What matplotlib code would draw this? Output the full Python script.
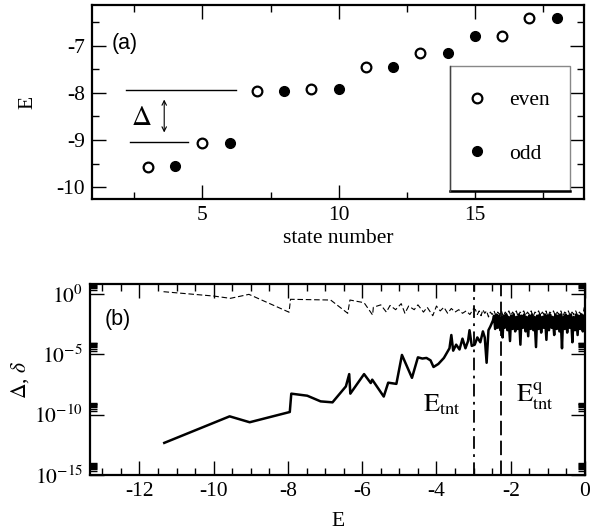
import numpy as np
import matplotlib
matplotlib.use("Agg")
import matplotlib.pyplot as plt
from matplotlib.patches import Rectangle
from matplotlib.lines import Line2D
from matplotlib.ticker import MultipleLocator, FixedLocator, FixedFormatter

plt.rcParams['font.family'] = ['Liberation Serif', 'DejaVu Serif']
plt.rcParams['mathtext.fontset'] = 'stix'
plt.rcParams['axes.unicode_minus'] = False

# ---------------- panel (a) data ----------------
even_state = [3, 5, 7, 9, 11, 13, 16, 17]
even_E = [-9.57, -9.06, -7.95, -7.91, -7.45, -7.14, -6.79, -6.40]
odd_state = [4, 6, 8, 10, 12, 14, 15, 18]
odd_E = [-9.56, -9.06, -7.95, -7.91, -7.45, -7.14, -6.79, -6.40]

# annotation lines in panel (a)
upper_level = [2.18, 6.24, -7.94]
lower_level = [2.35, 4.49, -9.04]

# ---------------- panel (b) data ----------------
gap_E = [-11.33, -9.57, -9.03, -7.95, -7.91, -7.48, -7.12, -6.80, -6.44, -6.35, -6.32,
         -5.95, -5.77, -5.73, -5.42, -5.30, -5.08, -4.93, -4.66, -4.50, -4.38, -4.27,
         -4.16, -4.08, -3.95, -3.80, -3.65, -3.60, -3.55, -3.47, -3.38, -3.30, -3.22,
         -3.15, -3.11, -3.05, -2.97, -2.90, -2.82, -2.75, -2.70, -2.65, -2.60, -2.55,
         -2.48, -2.45, -2.42, -2.38, -2.35, -2.32, -2.28, -2.25, -2.22, -2.19, -2.16,
         -2.12, -2.09, -2.06, -2.02, -1.99, -1.95, -1.92, -1.88, -1.85, -1.81, -1.78,
         -1.74, -1.71, -1.67, -1.64, -1.60, -1.57, -1.53, -1.50, -1.46, -1.43, -1.39,
         -1.36, -1.32, -1.29, -1.25, -1.22, -1.18, -1.15, -1.11, -1.08, -1.04, -1.01,
         -0.97, -0.94, -0.90, -0.87, -0.83, -0.80, -0.76, -0.73, -0.69, -0.66, -0.62,
         -0.59, -0.55, -0.52, -0.48, -0.45, -0.41, -0.38, -0.34, -0.31, -0.27, -0.24,
         -0.20, -0.17, -0.13, -0.10, -0.06, -0.03]
gap_log10 = [-12.34, -10.14, -10.63, -9.78, -8.26, -8.43, -8.90, -8.98, -7.66, -6.64, -8.26,
             -6.64, -7.38, -7.10, -8.50, -7.35, -7.45, -5.05, -6.95, -5.25, -5.35, -5.30,
             -5.50, -6.05, -5.80, -5.30, -4.50, -3.40, -4.70, -4.20, -4.60, -3.70, -4.50,
             -3.90, -3.00, -4.30, -4.20, -3.60, -4.00, -3.10, -3.60, -5.70, -3.00, -2.70,
             -2.20, -1.80, -2.90, -1.70, -2.80, -1.80, -3.00, -1.90, -3.60, -1.80, -2.80,
             -1.70, -3.00, -1.90, -3.90, -1.80, -2.90, -1.70, -3.10, -1.90, -2.90, -1.70,
             -4.20, -1.80, -2.80, -1.70, -3.10, -1.90, -3.50, -1.80, -2.90, -1.70, -3.00,
             -1.90, -4.40, -1.80, -2.90, -1.70, -3.20, -1.90, -2.80, -1.70, -3.80, -1.80,
             -3.00, -1.70, -2.80, -1.90, -3.40, -1.70, -2.90, -1.80, -3.10, -1.70, -4.50,
             -1.90, -2.90, -1.70, -3.20, -1.80, -2.80, -1.70, -4.00, -1.90, -3.00, -1.70,
             -3.40, -1.80, -2.90, -1.70, -3.10, -1.80]

split_E = [-11.35, -10.00, -9.55, -9.05, -7.97, -7.93, -6.85, -6.39, -6.33, -5.95, -5.72,
           -5.70, -5.50, -5.35, -5.25, -5.10, -4.95, -4.85, -4.75, -4.60, -4.50, -4.35,
           -4.25, -4.10, -4.00, -3.90, -3.80, -3.70, -3.60, -3.50, -3.40, -3.30, -3.20,
           -3.10, -3.00, -2.95, -2.90, -2.85, -2.80, -2.75, -2.70, -2.65, -2.60, -2.55,
           -2.50, -2.45, -2.40, -2.35, -2.30, -2.25, -2.20, -2.15, -2.10, -2.05, -2.00,
           -1.95, -1.90, -1.85, -1.80, -1.75, -1.70, -1.65, -1.60, -1.55, -1.50, -1.45,
           -1.40, -1.35, -1.30, -1.25, -1.20, -1.15, -1.10, -1.05, -1.00, -0.95, -0.90,
           -0.85, -0.80, -0.75, -0.70, -0.65, -0.60, -0.55, -0.50, -0.45, -0.40, -0.35,
           -0.30, -0.25, -0.20, -0.15, -0.10, -0.05, -0.02]
split_log10 = [0.19, -0.17, -0.36, -0.03, -1.51, -0.44, -0.50, -1.60, -0.50, -0.72, -1.74,
               -1.10, -0.90, -1.50, -0.95, -1.30, -0.80, -1.60, -1.00, -1.30, -0.90, -1.50,
               -1.10, -1.80, -1.00, -1.40, -1.10, -1.60, -1.20, -1.50, -1.30, -1.60, -1.40,
               -1.70, -1.20, -1.30, -1.70, -1.40, -1.80, -1.30, -1.60, -1.40, -1.90, -1.50,
               -1.70, -1.40, -1.80, -1.50, -1.70, -1.40, -1.90, -1.50, -1.70, -1.40, -1.80,
               -1.50, -1.70, -1.40, -1.90, -1.50, -1.60, -1.40, -1.80, -1.50, -1.70, -1.40,
               -1.90, -1.50, -1.60, -1.40, -1.80, -1.50, -1.70, -1.40, -1.90, -1.50, -1.60,
               -1.40, -1.80, -1.50, -1.70, -1.40, -1.90, -1.50, -1.60, -1.40, -1.80, -1.50,
               -1.70, -1.40, -1.80, -1.50, -1.70, -1.60, -1.10]

E_tnt = -3.0
E_tnt_q = -2.25

y_tick_exps = [0, -5, -10, -15]

FS = 15.5

fig = plt.figure(figsize=(5.98, 5.31), dpi=100)
axA = fig.add_axes([0.1538, 0.6247, 0.9766 - 0.1538, 0.9906 - 0.6247])
axB = fig.add_axes([0.1505, 0.1055, 0.9783 - 0.1505, 0.4652 - 0.1055])

for ax in (axA, axB):
    for s in ax.spines.values():
        s.set_linewidth(1.6)
    ax.tick_params(which='both', direction='in', top=True, right=True, labelsize=FS, width=1.0)
    ax.tick_params(which='major', length=10, pad=5)
    ax.tick_params(which='minor', length=5)

# ---- panel (a)
axA.plot(even_state, even_E, 'o', ms=7, mfc='white', mec='black', mew=1.6, ls='none')
axA.plot(odd_state, odd_E, 'o', ms=7, mfc='black', mec='black', mew=1.0, ls='none')
axA.set_xlim(0.95, 19.0)
axA.set_ylim(-10.26, -6.13)
axA.xaxis.set_major_locator(MultipleLocator(5))
axA.xaxis.set_minor_locator(MultipleLocator(2.5))
axA.yaxis.set_major_locator(MultipleLocator(1))
axA.yaxis.set_minor_locator(MultipleLocator(0.5))
axA.set_xlabel('state number', fontsize=FS, labelpad=3)
axA.set_ylabel('E', fontsize=FS, labelpad=14)
axA.text(2.14, -6.95, '(a)', fontsize=FS, ha='center', va='center',
         family=['Liberation Sans', 'DejaVu Sans'])
axA.plot(upper_level[:2], [upper_level[2]] * 2, color='black', lw=1.0)
axA.plot(lower_level[:2], [lower_level[2]] * 2, color='black', lw=1.0)
axA.text(2.77, -8.55, r'$\Delta$', fontsize=20, ha='center', va='center')
axA.annotate('', xy=(3.6, -8.84), xytext=(3.6, -8.14),
             arrowprops=dict(arrowstyle='<->', lw=0.8, color='black',
                             shrinkA=0, shrinkB=0, mutation_scale=8))

# legend box
box = Rectangle((14.08, -10.08), 18.5 - 14.08, -7.43 + 10.08, facecolor='white',
                edgecolor='#888888', lw=1.0, zorder=3)
axA.add_patch(box)
axA.plot([14.08, 18.5], [-10.08, -10.08], color='black', lw=1.8, zorder=4)
axA.plot([14.08, 14.08], [-10.08, -7.43], color='#444444', lw=1.0, zorder=4)
h_even = Line2D([], [], marker='o', ls='none', ms=7, mfc='white', mec='black', mew=1.6)
h_odd = Line2D([], [], marker='o', ls='none', ms=7, mfc='black', mec='black')
leg = axA.legend([h_even, h_odd], ['even', 'odd'], loc='center',
                 bbox_to_anchor=(16.2, -8.72), bbox_transform=axA.transData,
                 frameon=False, fontsize=FS, labelspacing=1.55, handletextpad=1.0,
                 handlelength=1.0)
leg.set_zorder(5)

# ---- panel (b)
axB.plot(split_E, [10 ** v for v in split_log10], color='black', lw=0.8,
         ls=(0, (5, 2.5)))
axB.plot(gap_E, [10 ** v for v in gap_log10], color='black', lw=1.8)
axB.set_yscale('log')
axB.set_xlim(-13.33, 0)
axB.set_ylim(1e-15, 10 ** 0.83)
axB.axvline(E_tnt, color='black', lw=1.3, ls=(0, (7, 3, 1.5, 3)))
axB.axvline(E_tnt_q, color='black', lw=1.3, ls=(0, (8, 3)))
axB.xaxis.set_major_locator(MultipleLocator(2))
axB.xaxis.set_minor_locator(MultipleLocator(0.5))
axB.yaxis.set_major_locator(FixedLocator([10.0 ** e for e in y_tick_exps]))
axB.yaxis.set_major_formatter(FixedFormatter([r'$10^{%d}$' % e for e in y_tick_exps]))
axB.yaxis.set_minor_locator(FixedLocator([k * 10.0 ** e for e in y_tick_exps for k in range(2, 10)]))
axB.yaxis.set_minor_formatter(FixedFormatter([]))
axB.tick_params(axis='y', which='minor', length=5)
axB.set_xlabel('E', fontsize=FS, labelpad=8)
axB.set_ylabel(r'$\Delta$, $\delta$', fontsize=FS, labelpad=2)
axB.text(-12.57, 10 ** -2.15, '(b)', fontsize=FS, ha='center', va='center',
         family=['Liberation Sans', 'DejaVu Sans'])
axB.text(-4.35, 10 ** -9.2, r'$\mathrm{E}_{\mathrm{tnt}}$', fontsize=19, ha='left', va='center')
axB.text(-1.85, 10 ** -8.5, r'$\mathrm{E}^{\mathrm{q}}_{\mathrm{tnt}}$', fontsize=19, ha='left', va='center')

fig.savefig('out.png', dpi=100)
